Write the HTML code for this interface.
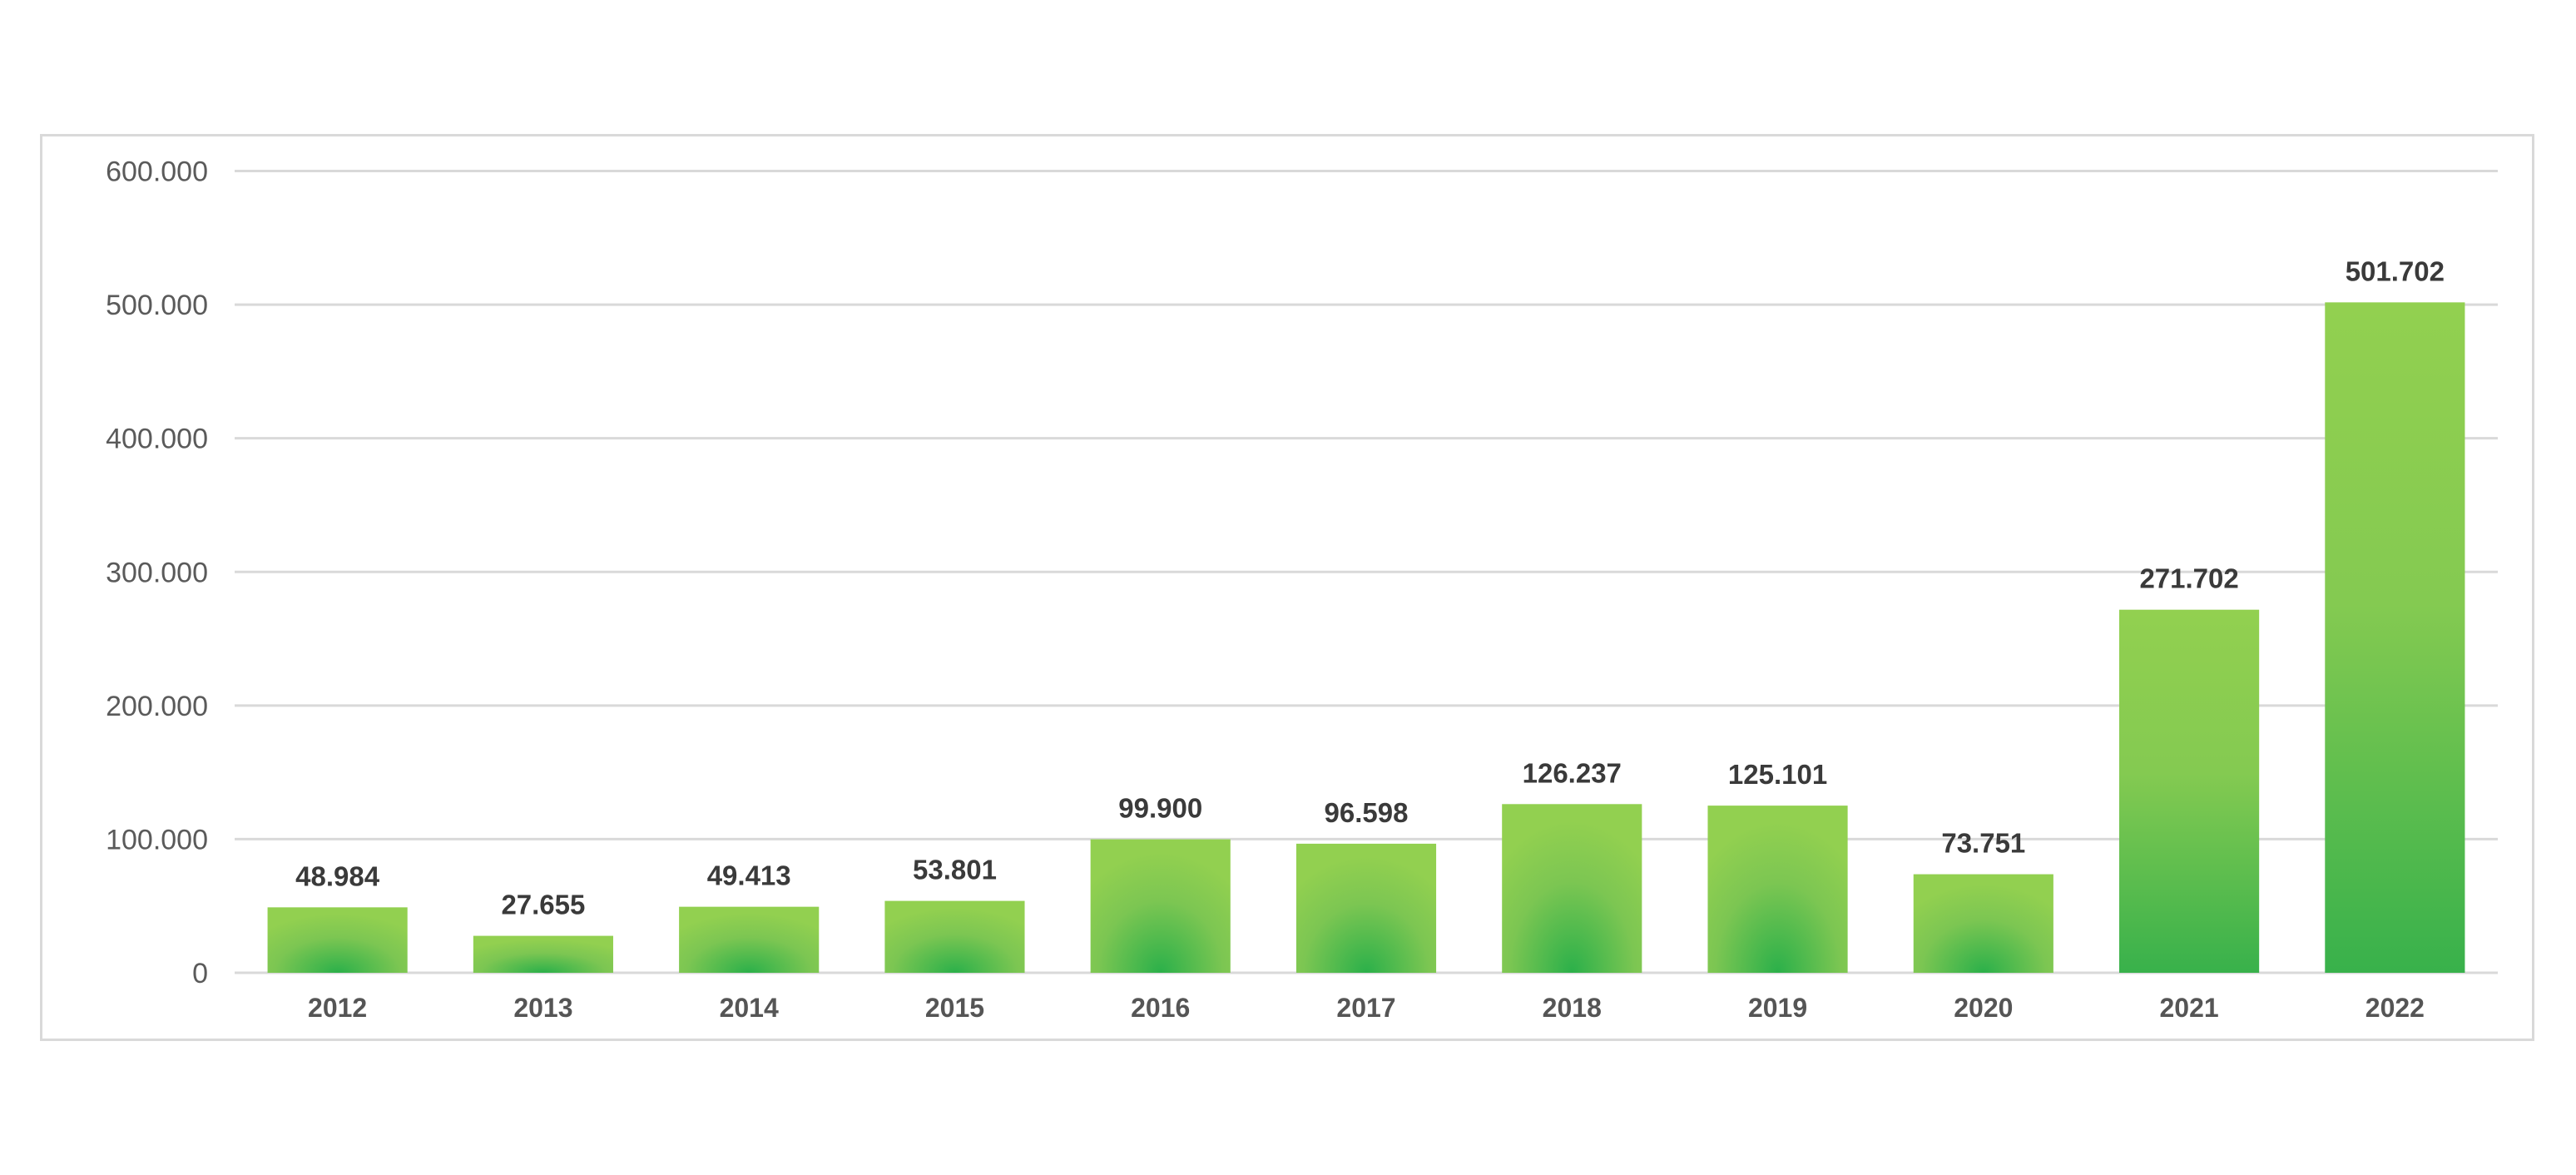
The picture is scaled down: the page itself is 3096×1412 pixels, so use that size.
<!DOCTYPE html>
<html><head><meta charset="utf-8"><style>
html,body{margin:0;padding:0;background:#fff;}
svg{display:block;font-family:"Liberation Sans",sans-serif;}
</style></head><body>
<svg id="chart" width="3096" height="1412" viewBox="0 0 3096 1412" xmlns="http://www.w3.org/2000/svg">
<defs>
<radialGradient id="rg" cx="0.5" cy="1" r="0.75" fx="0.5" fy="1" gradientTransform="translate(0.5 1) scale(1 1.2) translate(-0.5 -1)">
<stop offset="0" stop-color="#2bb04a"/><stop offset="0.6" stop-color="#7cc652"/><stop offset="1" stop-color="#92d050"/>
</radialGradient>
<linearGradient id="lg" x1="0" y1="0" x2="0" y2="1">
<stop offset="0" stop-color="#92d050"/><stop offset="0.45" stop-color="#84ca51"/><stop offset="1" stop-color="#38b14b"/>
</linearGradient>
</defs>
<rect x="49.5" y="162.5" width="2995" height="1087" fill="#fff" stroke="#d9d9d9" stroke-width="3"/>
<g id="grid"></g><g id="bars"></g><g id="labels"></g>
</svg>
<script>
const categories=["2012","2013","2014","2015","2016","2017","2018","2019","2020","2021","2022"];
const values=[48984,27655,49413,53801,99900,96598,126237,125101,73751,271702,501702];
const valueLabels=["48.984","27.655","49.413","53.801","99.900","96.598","126.237","125.101","73.751","271.702","501.702"];
const tickValues=[0,100000,200000,300000,400000,500000,600000];
const tickLabels=["0","100.000","200.000","300.000","400.000","500.000","600.000"];
const NS="http://www.w3.org/2000/svg";
const X0=282,X1=3002,Y0=1169,Y1=205.5,YMAX=600000;
const band=(X1-X0)/categories.length, bw=band*0.68;
function y(v){return Y0-(v/YMAX)*(Y0-Y1);}
function xc(i){return X0+band*(i+0.5);}
function mk(t,a,p){const e=document.createElementNS(NS,t);for(const k in a)e.setAttribute(k,a[k]);p.appendChild(e);return e;}
const g=document.getElementById('grid'),b=document.getElementById('bars'),l=document.getElementById('labels');
tickValues.forEach((v,i)=>{
  const ln=mk('line',{x1:X0,x2:X1,y1:y(v),y2:y(v),stroke:'#d9d9d9','stroke-width':3},g);
  
  
  const t=mk('text',{x:250,y:y(v)+12,'text-anchor':'end','font-size':34,fill:'#5a5a5a'},g);
  t.textContent=tickLabels[i];
  
  
});
values.forEach((v,i)=>{
  const top=y(v),h=Y0-top;
  const r=mk('rect',{x:xc(i)-bw/2,y:top,width:bw,height:h,fill:h>300?'url(#lg)':'url(#rg)'},b);
  
  
  const t=mk('text',{x:xc(i),y:top-26,'text-anchor':'middle','font-size':33,'font-weight':'bold',fill:'#3a3a3a'},l);
  t.textContent=valueLabels[i];
  
  
  const c=mk('text',{x:xc(i),y:1222,'text-anchor':'middle','font-size':32,'font-weight':'bold',fill:'#555'},l);
  c.textContent=categories[i];
  
  
});
</script>
</body></html>
